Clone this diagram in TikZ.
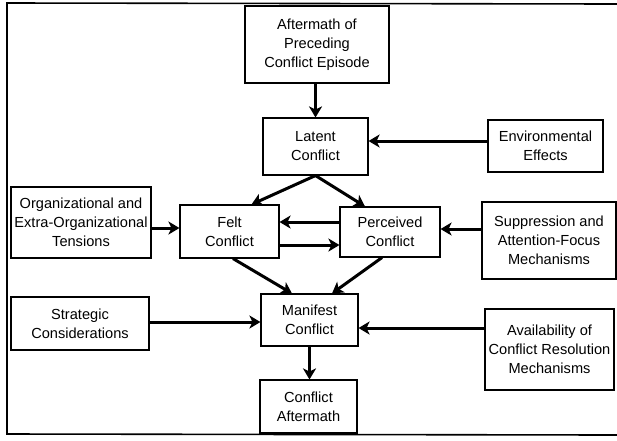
\documentclass[tikz,border=0pt]{standalone}
\usepackage{fontspec}
\setmainfont{Liberation Sans}
\usetikzlibrary{arrows.meta}
\begin{document}
\begin{tikzpicture}[x=1pt,y=-1pt,
  box/.style={draw, line width=1.1pt, rectangle, inner sep=0pt, align=center,
    font=\fontsize{14.6}{19}\selectfont},
  arr/.style={line width=3pt, -{Stealth[length=11pt,width=13pt,inset=3pt]}},
  frame/.style={line width=1.6pt}]
  \useasboundingbox (0,0) rectangle (617,440);

  % outer frame (open on the right)
  \draw[frame] (617,4) -- (7,3) -- (7,434) -- (617,435);

  % boxes
  \node[box, minimum width=144pt, minimum height=77pt] (prev) at (317,44.5)
    {Aftermath of\\Preceding\\Conflict Episode};
  \node[box, minimum width=105pt, minimum height=57pt] (latent) at (315.5,146.5)
    {Latent\\Conflict};
  \node[box, minimum width=115pt, minimum height=52pt] (env) at (545.5,146)
    {Environmental\\Effects};
  \node[box, minimum width=140pt, minimum height=71pt] (org) at (81,222.5)
    {Organizational and\\Extra-Organizational\\Tensions};
  \node[box, minimum width=99pt, minimum height=53pt] (felt) at (229.5,231.5)
    {Felt\\Conflict};
  \node[box, minimum width=100pt, minimum height=50pt] (perc) at (390,232)
    {Perceived\\Conflict};
  \node[box, minimum width=134pt, minimum height=77pt] (supp) at (549,240.5)
    {Suppression and\\Attention-Focus\\Mechanisms};
  \node[box, minimum width=138pt, minimum height=53pt] (strat) at (80,323.5)
    {Strategic\\Considerations};
  \node[box, minimum width=97pt, minimum height=52pt] (manif) at (309.5,320)
    {Manifest\\Conflict};
  \node[box, minimum width=129pt, minimum height=81pt] (avail) at (549.5,349.5)
    {Availability of\\Conflict Resolution\\Mechanisms};
  \node[box, minimum width=97pt, minimum height=53pt] (after) at (308.5,406.5)
    {Conflict\\Aftermath};

  % connectors
  \draw[arr] (latent.north |- prev.south) -- (latent.north);
  \draw[arr] (env.west |- 0,141) -- (latent.east |- 0,141);
  \draw[arr] (latent.south) -- ([xshift=22pt]felt.north);
  \draw[arr] (latent.south) -- ([xshift=-25pt]perc.north);
  \draw[arr] (perc.west |- 0,222) -- (felt.east |- 0,222);
  \draw[arr] (felt.east |- 0,245) -- (perc.west |- 0,245);
  \draw[arr] (org.east |- 0,228) -- (felt.west |- 0,228);
  \draw[arr] (supp.west |- 0,229) -- (perc.east |- 0,229);
  \draw[arr] ([xshift=3.5pt]felt.south) -- ([xshift=-17.5pt]manif.north);
  \draw[arr] ([xshift=-8pt]perc.south) -- ([xshift=22.5pt]manif.north);
  \draw[arr] (strat.east |- 0,322) -- (manif.west |- 0,322);
  \draw[arr] (avail.west |- 0,328) -- (manif.east |- 0,328);
  \draw[arr] (manif.south) -- (manif.south |- after.north);
\end{tikzpicture}
\end{document}
